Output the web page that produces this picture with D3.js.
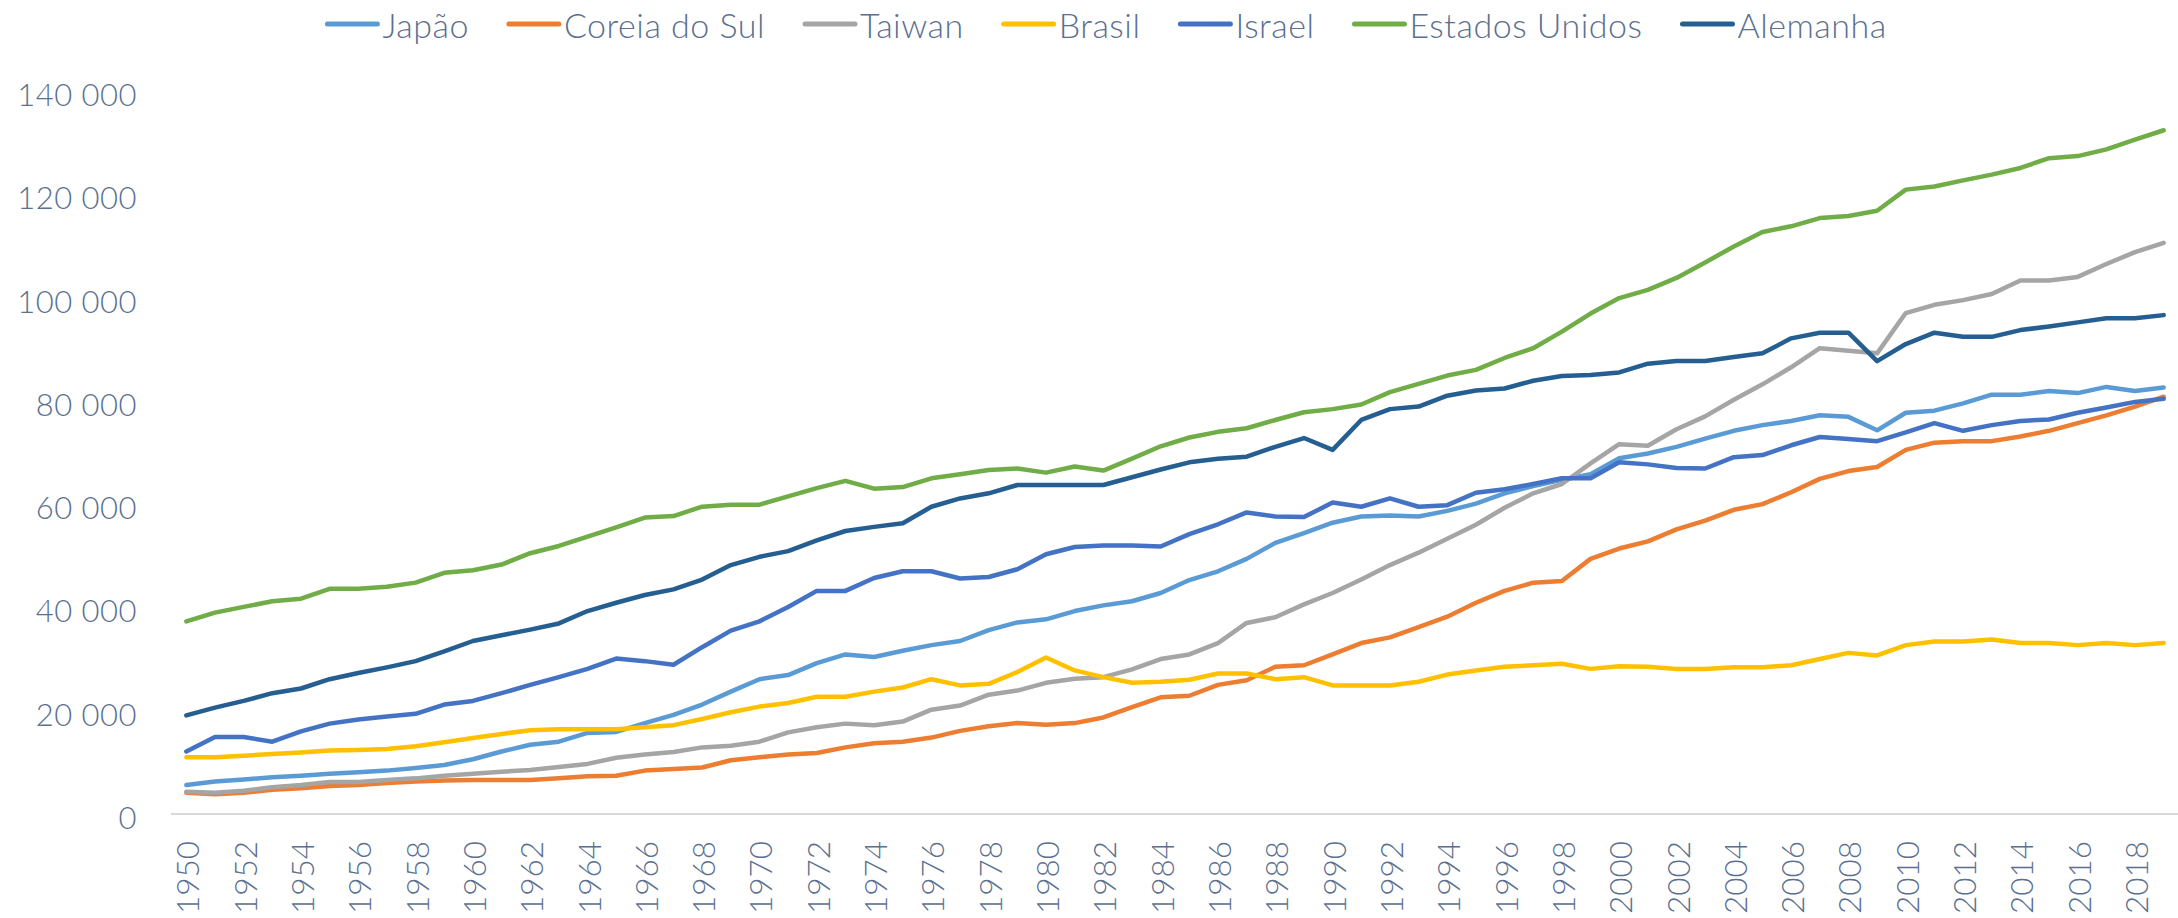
<!DOCTYPE html>
<html>
<head>
<meta charset="utf-8">
<script src="https://cdn.jsdelivr.net/npm/d3@7"></script>
<style>
  body { margin: 0; background: #fff; }
  svg text { font-family: Lato, "Liberation Sans", Arial, sans-serif; font-weight: 300; fill: #5b7090; }
</style>
</head>
<body>
<div id="graph"></div>
<script>
var years = d3.range(1950, 2020)

var japao = [5600, 6300, 6700, 7100, 7400, 7800, 8100, 8400, 8900, 9500, 10600, 12100, 13400, 14000, 15700, 15900, 17600, 19200,
  21200, 23700, 26100, 26900, 29200, 30900, 30400, 31600, 32700, 33500, 35600, 37100, 37700, 39300, 40400, 41200, 42800,
  45300, 47000, 49400, 52500, 54400, 56400, 57600, 57800, 57600, 58700, 60100, 62100, 63500, 64700, 65800, 68900, 69800, 71100,
  72700, 74200, 75300, 76100, 77200, 76900, 74300, 77700, 78100, 79500, 81200, 81200, 81900, 81500, 82700, 81900, 82600]

var coreia = [4100, 3800, 4100, 4700, 5000, 5400, 5600, 6000, 6300, 6500, 6600, 6600, 6600, 6900, 7300, 7400, 8400, 8700,
  9000, 10400, 11000, 11500, 11800, 12900, 13700, 14000, 14800, 16100, 17000, 17600, 17300, 17600, 18700, 20700, 22600,
  22900, 25000, 25900, 28500, 28800, 30900, 33100, 34200, 36200, 38200, 40900, 43200, 44800, 45100, 49400, 51400, 52800, 55100,
  56800, 58900, 60000, 62300, 64900, 66400, 67200, 70500, 71900, 72200, 72200, 73100, 74200, 75700, 77200, 78900, 80800]

var taiwan = [4300, 4100, 4500, 5200, 5600, 6200, 6200, 6600, 6900, 7400, 7800, 8200, 8500, 9100, 9700, 10900, 11500, 12000,
  12900, 13200, 14000, 15800, 16800, 17500, 17200, 17900, 20200, 21000, 23100, 23900, 25400, 26200, 26500, 28000, 30000,
  30900, 33100, 37000, 38100, 40600, 42800, 45400, 48200, 50600, 53300, 56000, 59300, 62100, 63900, 67900, 71600, 71300, 74500,
  77000, 80200, 83200, 86500, 90200, 89700, 89200, 97000, 98600, 99500, 100700, 103300, 103300, 104000, 106500, 108800, 110600]

var brasil = [11000, 11000, 11300, 11600, 11900, 12300, 12400, 12600, 13100, 13900, 14700, 15500, 16200, 16400, 16400, 16400, 16800, 17200,
  18400, 19700, 20800, 21500, 22700, 22700, 23700, 24500, 26100, 24900, 25200, 27500, 30300, 27800, 26500, 25400, 25600,
  26000, 27200, 27200, 26100, 26500, 24900, 24900, 24900, 25600, 27000, 27800, 28500, 28800, 29100, 28100, 28600, 28500, 28100,
  28100, 28400, 28400, 28800, 30000, 31200, 30700, 32700, 33400, 33400, 33800, 33100, 33100, 32700, 33100, 32700, 33100]

var israel = [12100, 14900, 14900, 14000, 16000, 17500, 18300, 18900, 19400, 21200, 21900, 23400, 25000, 26500, 28100, 30100, 29600, 28900,
  32300, 35500, 37300, 40100, 43200, 43200, 45700, 47000, 47000, 45600, 45900, 47400, 50300, 51700, 52000, 52000, 51800,
  54200, 56100, 58400, 57600, 57500, 60300, 59500, 61100, 59500, 59800, 62200, 62900, 63900, 65000, 65000, 68100, 67700, 67000,
  66900, 69100, 69500, 71400, 73000, 72600, 72200, 73900, 75700, 74200, 75300, 76100, 76400, 77700, 78700, 79800, 80400]

var estadosUnidos = [37300, 39000, 40100, 41200, 41700, 43600, 43600, 44000, 44800, 46700, 47200, 48300, 50500, 51900, 53700, 55500, 57400, 57700,
  59500, 59900, 59900, 61500, 63100, 64500, 63000, 63300, 65000, 65800, 66600, 66900, 66100, 67300, 66500, 68800, 71200,
  72900, 74000, 74700, 76300, 77800, 78400, 79300, 81700, 83300, 84900, 86000, 88300, 90200, 93400, 96900, 99900, 101500, 103800,
  106800, 109900, 112700, 113800, 115400, 115800, 116800, 120900, 121500, 122700, 123800, 125100, 127000, 127400, 128700, 130600, 132400]

var alemanha = [19100, 20600, 21900, 23400, 24300, 26100, 27300, 28400, 29600, 31500, 33500, 34600, 35700, 36900, 39300, 40900, 42400, 43500,
  45400, 48200, 49800, 50900, 53000, 54800, 55600, 56300, 59500, 61100, 62100, 63700, 63700, 63700, 63700, 65200, 66700,
  68100, 68800, 69200, 71100, 72800, 70500, 76300, 78400, 78900, 81000, 82000, 82400, 83900, 84800, 85000, 85500, 87200, 87700,
  87700, 88500, 89200, 92100, 93200, 93200, 87700, 91000, 93200, 92400, 92400, 93700, 94400, 95200, 96000, 96000, 96600]

var names = ['Japão', 'Coreia do Sul', 'Taiwan', 'Brasil', 'Israel', 'Estados Unidos', 'Alemanha']
var colors = ['#5b9bd5', '#ed7d31', '#a5a5a5', '#ffc000', '#4472c4', '#70ad47', '#255e91']
var yTicks = [0, 20000, 40000, 60000, 80000, 100000, 120000, 140000]

var series = [japao, coreia, taiwan, brasil, israel, estadosUnidos, alemanha]
  .map((values, i) => ({name: names[i], color: colors[i], values}))

var width = 2178, height = 918

var svg = d3.select('#graph').append('svg')
  .attr('width', width).attr('height', height)

var x = d3.scaleBand().domain(years).range([172, 2178])
var y = d3.scaleLinear().domain([0, 140000]).range([814, 91])
var cx = d => x(d) + x.bandwidth() / 2

var fmt = v => d3.format(',')(v).replace(/,/g, ' ')

// y labels, no gridlines
svg.append('g').selectAll('text')
  .data(yTicks).join('text')
  .attr('x', 137).attr('y', d => y(d) + 3)
  .attr('text-anchor', 'end')
  .attr('dominant-baseline', 'central')
  .style('font-size', '31px')
  .style('letter-spacing', '0.5px')
  .text(fmt)

// baseline
svg.append('line')
  .attr('x1', 171).attr('x2', width)
  .attr('y1', y(0)).attr('y2', y(0))
  .attr('stroke', '#d9d9d9').attr('stroke-width', 2)

// year labels, every other year, rotated
svg.append('g').selectAll('text')
  .data(years.filter(d => d % 2 == 0)).join('text')
  .attr('transform', d => `translate(${cx(d) + 1},841) rotate(-90)`)
  .attr('text-anchor', 'end')
  .attr('dominant-baseline', 'central')
  .style('font-size', '31.5px')
  .text(d => d)

var line = d3.line()
  .x((d, i) => cx(years[i]))
  .y(d => y(d))

svg.append('g').selectAll('path')
  .data(series).join('path')
  .attr('d', d => line(d.values))
  .attr('fill', 'none')
  .attr('stroke', d => d.color)
  .attr('stroke-width', 4.5)
  .attr('stroke-linejoin', 'round')
  .attr('stroke-linecap', 'round')

// legend
var lg = svg.append('g')
var items = lg.selectAll('g').data(series).join('g')
items.append('line')
  .attr('x1', 2).attr('x2', 52).attr('y1', 24).attr('y2', 24)
  .attr('stroke', d => d.color).attr('stroke-width', 5)
  .attr('stroke-linecap', 'round')
items.append('text')
  .attr('x', 57).attr('y', 24)
  .attr('dominant-baseline', 'central')
  .style('font-size', '34px')
  .style('letter-spacing', '0.5px')
  .text(d => d.name)

var pos = 0
items.each(function(d) {
  var w = 57 + this.querySelector('text').getComputedTextLength()
  d3.select(this).attr('transform', `translate(${pos},0)`)
  pos += w + 38
})
pos -= 38
lg.attr('transform', `translate(${1106 - pos / 2},0)`)
</script>
</body>
</html>
